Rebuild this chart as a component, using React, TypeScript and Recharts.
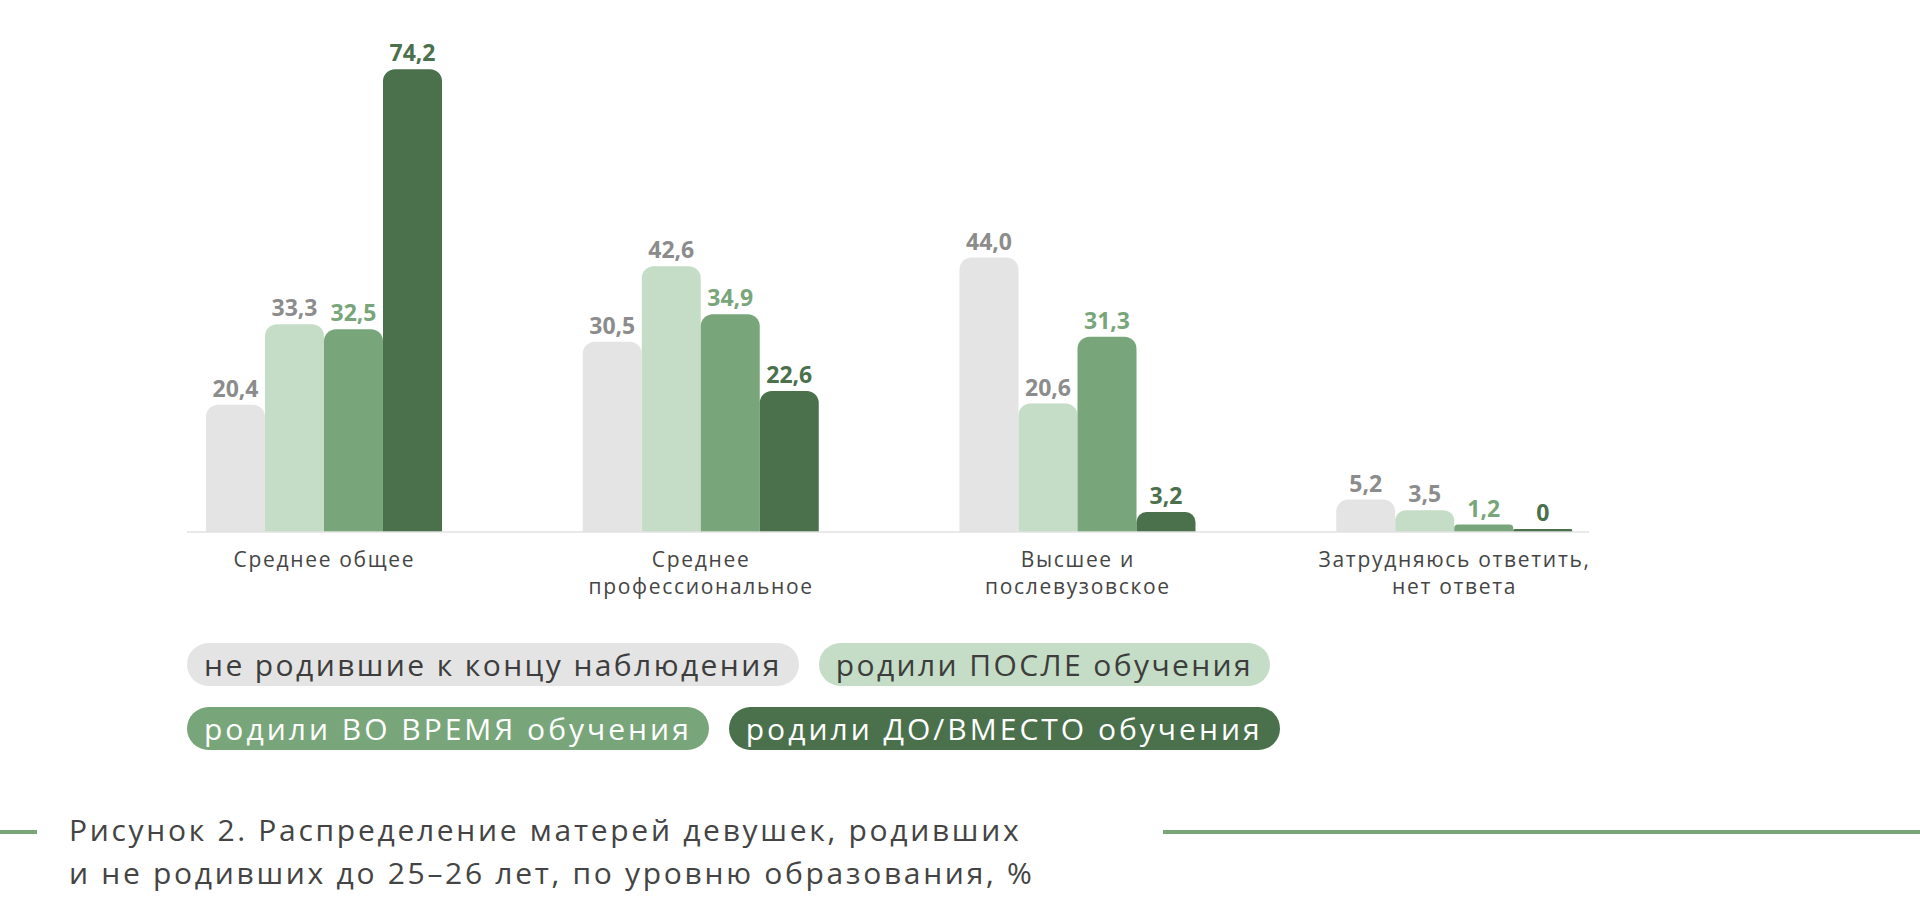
import React from "react";
import { BarChart, Bar, XAxis, YAxis, LabelList, Legend } from "recharts";

const categories = [
  "Среднее общее",
  "Среднее\nпрофессиональное",
  "Высшее и\nпослевузовское",
  "Затрудняюсь ответить,\nнет ответа",
];

const notBorn = [20.4, 30.5, 44.0, 5.2];
const afterStudy = [33.3, 42.6, 20.6, 3.5];
const duringStudy = [32.5, 34.9, 31.3, 1.2];
const beforeStudy = [74.2, 22.6, 3.2, 0];

const seriesNames = [
  "не родившие к концу наблюдения",
  "родили ПОСЛЕ обучения",
  "родили ВО ВРЕМЯ обучения",
  "родили ДО/ВМЕСТО обучения",
];

const barColors = ["#e4e4e4", "#c5ddc6", "#78a67a", "#4a704c"];
const labelColors = ["#8c8c8c", "#8c8c8c", "#78a67a", "#4a704c"];
const legendTextColors = ["#3d3d3d", "#3d3d3d", "#ffffff", "#ffffff"];

const FONT = "'Open Sans', sans-serif";
const SPACING = "0.08em";

const data = categories.map((name, i) => ({
  name,
  s0: notBorn[i],
  s1: afterStudy[i],
  s2: duringStudy[i],
  s3: beforeStudy[i],
}));

const fmt = (v: number) => (v === 0 ? "0" : v.toFixed(1).replace(".", ","));

function CategoryTick({ x, y, payload }: any) {
  const lines = String(payload.value).split("\n");
  return (
    <text
      x={x}
      y={y}
      textAnchor="middle"
      fill="#454545"
      fontSize={21}
      fontFamily={FONT}
      style={{ letterSpacing: SPACING }}
    >
      {lines.map((line, i) => (
        <tspan key={i} x={x} dy={i === 0 ? 35 : 27}>
          {line}
        </tspan>
      ))}
    </text>
  );
}

function PillLegend({ payload }: any) {
  const items = (payload || [])
    .map((p: any) => {
      const idx = seriesNames.indexOf(p.value);
      return { idx, text: p.value, bg: barColors[idx], color: legendTextColors[idx] };
    })
    .sort((a: any, b: any) => a.idx - b.idx);
  const rows = [items.slice(0, 2), items.slice(2, 4)];
  return (
    <div style={{ display: "flex", flexDirection: "column", gap: 21 }}>
      {rows.map((row: any[], r: number) => (
        <div key={r} style={{ display: "flex", gap: 20 }}>
          {row.map((it) => (
            <div
              key={it.text}
              style={{
                background: it.bg,
                color: it.color,
                height: 43,
                lineHeight: "43px",
                borderRadius: 22,
                padding: "0 17px",
                fontSize: 30,
                fontFamily: FONT,
                letterSpacing: r === 1 ? "0.1em" : SPACING,
                whiteSpace: "nowrap",
              }}
            >
              {it.text}
            </div>
          ))}
        </div>
      ))}
    </div>
  );
}

export default function App() {
  const keys = ["s0", "s1", "s2", "s3"];
  return (
    <div
      style={{
        position: "absolute",
        left: 0,
        top: 0,
        width: 1920,
        height: 922,
        background: "#ffffff",
        fontFamily: FONT,
        overflow: "hidden",
      }}
    >
      <BarChart
        width={1920}
        height={760}
        data={data}
        margin={{ top: 33, right: 331, left: 187, bottom: 160 }}
        barGap={0}
      >
        <XAxis
          dataKey="name"
          height={68}
          padding={{ left: -51, right: -54 }}
          axisLine={{ stroke: "#e2e2e2", strokeWidth: 1.5 }}
          tickLine={false}
          tickSize={0}
          tickMargin={0}
          interval={0}
          tick={<CategoryTick />}
        />
        <YAxis hide domain={[0, 80]} />
        <Legend
          layout="horizontal"
          verticalAlign="middle"
          align="center"
          content={<PillLegend />}
          wrapperStyle={{ position: "absolute", top: 643, left: 187, width: "auto", height: "auto" }}
        />
        {keys.map((k, i) => (
          <Bar
            key={k}
            dataKey={k}
            name={seriesNames[i]}
            fill={barColors[i]}
            barSize={59}
            radius={[12, 12, 0, 0]}
            minPointSize={i === 3 ? 3 : 0}
            isAnimationActive={false}
          >
            <LabelList
              dataKey={k}
              position="top"
              offset={8}
              formatter={(v: any) => fmt(Number(v))}
              fill={labelColors[i]}
              fontSize={23}
              fontWeight={700}
              fontFamily={FONT}
            />
          </Bar>
        ))}
      </BarChart>

      <div
        style={{
          position: "absolute",
          left: 0,
          top: 830,
          width: 37,
          height: 4,
          background: "#78a67a",
        }}
      />
      <div
        style={{
          position: "absolute",
          left: 1163,
          top: 830,
          width: 757,
          height: 4,
          background: "#78a67a",
        }}
      />
      <div
        style={{
          position: "absolute",
          left: 69,
          top: 808,
          fontSize: 30,
          lineHeight: "43px",
          letterSpacing: "0.09em",
          color: "#444444",
          fontFamily: FONT,
        }}
      >
        Рисунок 2. Распределение матерей девушек, родивших
        <br />
        и не родивших до 25–26 лет, по уровню образования, %
      </div>
    </div>
  );
}
